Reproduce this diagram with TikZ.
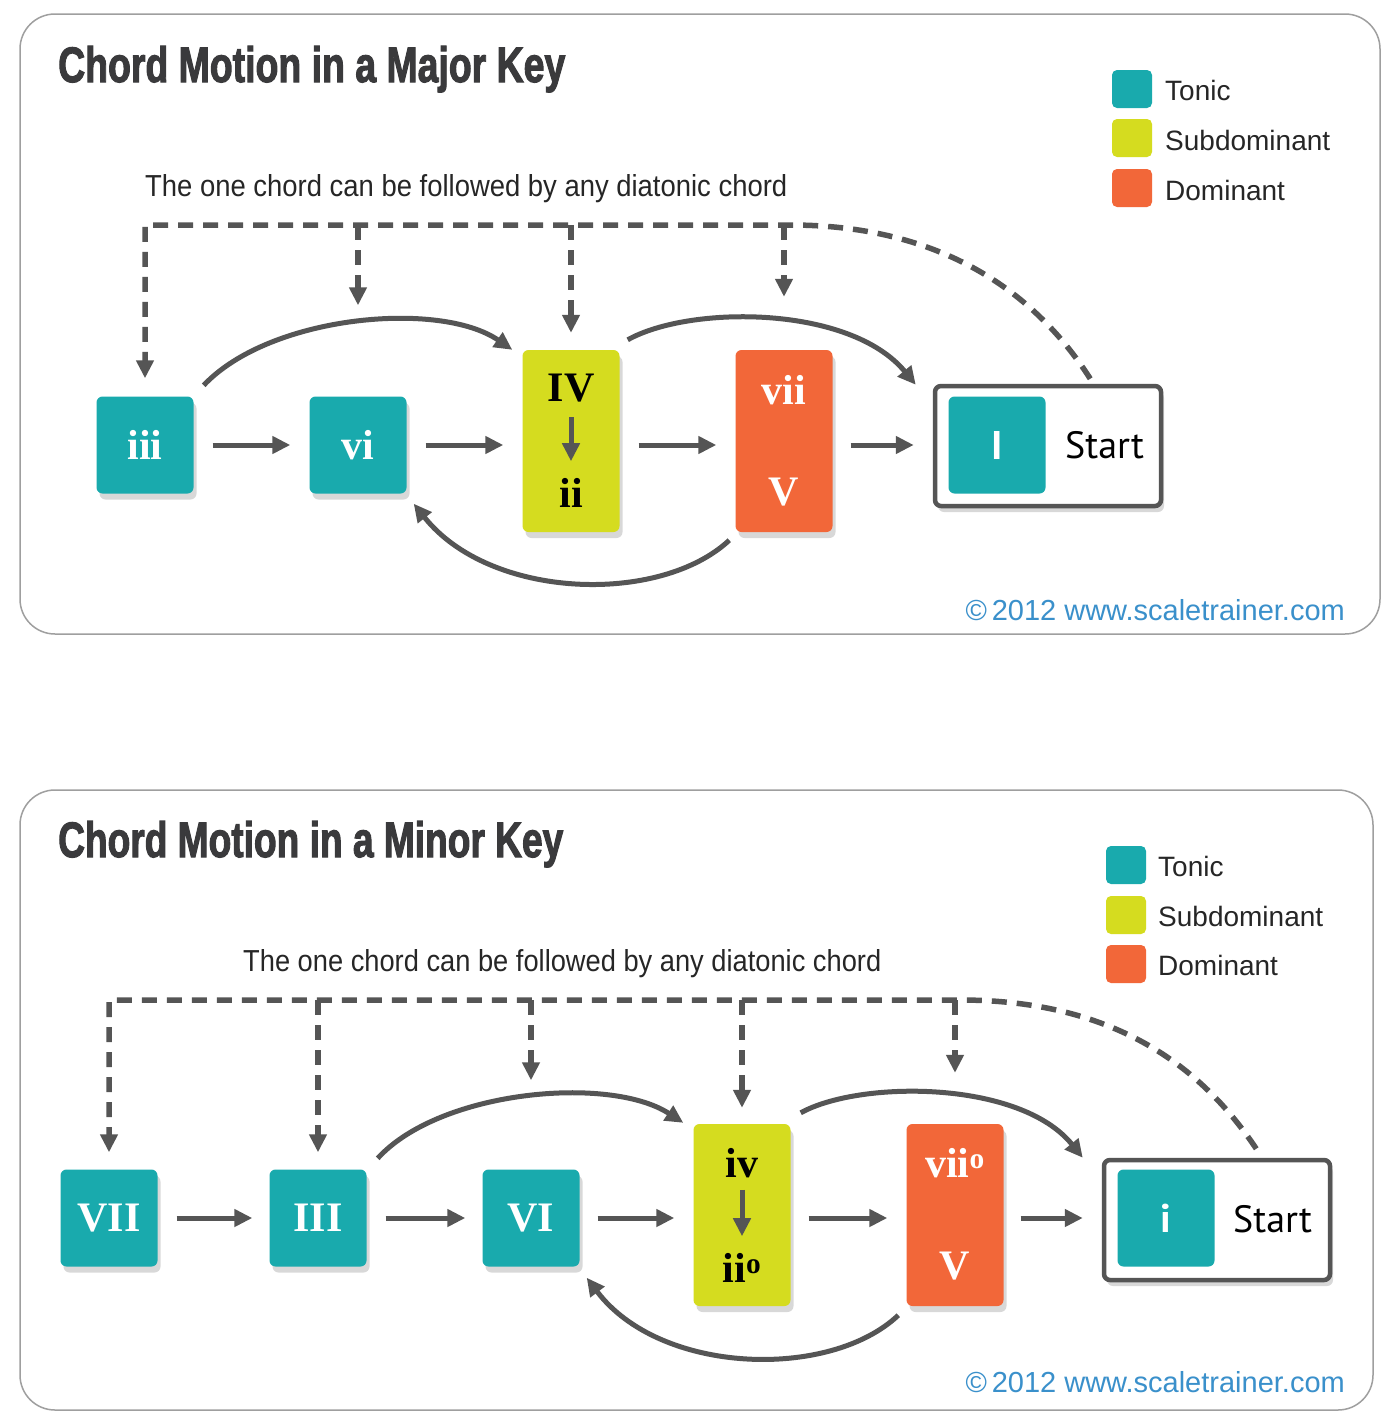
\documentclass[tikz,border=0pt]{standalone}
\usepackage{fontspec}
\setmainfont{Liberation Sans}
\newfontfamily\headfont{Liberation Sans}[BoldFeatures={FakeBold=2.5}]
\newfontfamily\romanfont{Liberation Serif}
\newfontfamily\startfont{PT Sans}
\usetikzlibrary{arrows.meta, shadows}
\definecolor{tonic}{HTML}{19AAAD}
\definecolor{subdom}{HTML}{D5DC1F}
\definecolor{dom}{HTML}{F26739}
\definecolor{arrowgrey}{HTML}{555555}
\definecolor{titlegrey}{HTML}{3A3A3C}
\definecolor{weblink}{HTML}{3A90CB}

\begin{document}
\begin{tikzpicture}[x=1pt, y=-1pt,
  panel/.style={draw=gray!75, line width=1.5pt, rounded corners=35pt},
  chord/.style={fill=tonic, rounded corners=6pt, minimum width=97pt, minimum height=97pt,
    inner sep=0pt, text=white, font=\romanfont\bfseries\fontsize{42}{42}\selectfont,
    drop shadow={shadow xshift=3pt, shadow yshift=-6pt, opacity=.3}},
  tallchord/.style={chord, minimum height=182pt},
  numeral/.style={inner sep=0pt, font=\romanfont\bfseries\fontsize{42}{42}\selectfont},
  startbox/.style={draw=arrowgrey, line width=4.5pt, fill=white, rounded corners=6pt,
    minimum width=226pt, minimum height=120pt,
    drop shadow={shadow xshift=3pt, shadow yshift=-6pt, opacity=.3}},
  startchord/.style={fill=tonic, rounded corners=6pt, minimum width=97pt, minimum height=97pt,
    inner sep=0pt, text=white, font=\startfont\bfseries\fontsize{40}{40}\selectfont},
  starttext/.style={anchor=base west, inner sep=0pt, font=\startfont\fontsize{38}{38}\selectfont},
  arr/.style={arrowgrey, line width=5pt, -{Triangle[length=18pt,width=17pt]}},
  dasharr/.style={arrowgrey, line width=5.5pt, dash pattern=on 15pt off 10pt,
    -{Triangle[length=18pt,width=17pt]}},
  key/.style={rounded corners=5pt, minimum width=40pt, minimum height=38pt},
  keytext/.style={anchor=base west, inner sep=0pt, text=black!85, font=\fontsize{28}{28}\selectfont},
  heading/.style={anchor=base west, inner sep=0pt, text=titlegrey},
  note/.style={anchor=base west, inner sep=0pt, text=black!85},
  copyright/.style={anchor=base east, inner sep=0pt, text=weblink, font=\fontsize{29}{29}\selectfont}]

\fill[white] (0,0) rectangle (1398,1427);
\useasboundingbox (0,0) rectangle (1398,1427);

% ---- major key ----
\draw[panel] (20,14) rectangle (1380,634);
\node[heading] (title1) at (58,82) {\resizebox{507pt}{36pt}{\headfont\bfseries Chord Motion in a Major Key}};
\node[key, fill=tonic] (keyt1) at (1132,89) {};
\node[key, fill=subdom] (keys1) at (1132,138) {};
\node[key, fill=dom] (keyd1) at (1132,188) {};
\node[keytext] at (1165,100) {Tonic};
\node[keytext] at (1165,150) {Subdominant};
\node[keytext] at (1165,200) {Dominant};
\node[note] (note1) at (145,196) {\resizebox{642pt}{22pt}{The one chord can be followed by any diatonic chord}};
\coordinate (dl1) at (0,225);

\node[chord] (iii) at (145,445) {iii};
\node[chord] (vi) at (358,445) {vi};
\node[tallchord, fill=subdom] (IVii) at (571,441) {};
\node[tallchord, fill=dom] (viiV) at (784,441) {};
\node[startbox] (start1) at (1048,446) {};
\node[startchord] (I) at (997,445) {I};
\node[starttext] (st1) at (1065,458) {Start};

\node[numeral] (IV) at (571,388) {IV};
\node[numeral] (ii) at (571,493) {ii};
\node[numeral, text=white] (vii) at (784,390) {vii};
\node[numeral, text=white] (V) at (784,492) {V};
\draw[arr, shorten <=15pt, shorten >=17pt] (IV) -- (ii);

\draw[arr, shorten <=19pt, shorten >=19pt] (iii) -- (vi);
\draw[arr, shorten <=19pt, shorten >=19pt] (vi.east) -- (vi.east -| IVii.west);
\draw[arr, shorten <=19pt, shorten >=19pt] (IVii.east |- vi) -- (viiV.west |- vi);
\draw[arr, shorten <=18pt, shorten >=19pt] (viiV.east |- vi) -- (start1.west |- vi);

\draw[arr] ([shift={(10,-11)}]iii.north east) .. controls (270,315) and (440,300) .. ([shift={(-10,0)}]IVii.north west);
\draw[arr] ([shift={(8,-10)}]IVii.north east) .. controls (690,305) and (850,305) .. ([shift={(-17,1)}]start1.north west);
\draw[arr] ([shift={(-6,8)}]viiV.south west) .. controls (660,605) and (490,600) .. ([shift={(7,10)}]vi.south east);

\draw[dasharr, shorten >=18pt] ([shift={(-73,-5)}]start1.north east) .. controls (1040,300) and (950,225) .. (790,225) -- (iii.north |- dl1) -- (iii.north);
\draw[dasharr, shorten >=91pt] (vi.north |- dl1) -- (vi.north);
\draw[dasharr, shorten >=17pt] (IVii.north |- dl1) -- (IVii.north);
\draw[dasharr, shorten >=53pt] (viiV.north |- dl1) -- (viiV.north);

\node[copyright] (web1) at (1345,620) {\textcopyright\,2012 www.scaletrainer.com};

% ---- minor key ----
\draw[panel] (20,790) rectangle (1373,1410);
\node[heading] (title2) at (58,857) {\resizebox{505pt}{36pt}{\headfont\bfseries Chord Motion in a Minor Key}};
\node[key, fill=tonic] (keyt2) at (1126,865) {};
\node[key, fill=subdom] (keys2) at (1126,915) {};
\node[key, fill=dom] (keyd2) at (1126,964) {};
\node[keytext] at (1158,876) {Tonic};
\node[keytext] at (1158,926) {Subdominant};
\node[keytext] at (1158,975) {Dominant};
\node[note] (note2) at (243,971) {\resizebox{638pt}{22pt}{The one chord can be followed by any diatonic chord}};
\coordinate (dl2) at (0,1000);

\node[chord] (VII) at (109,1218) {VII};
\node[chord] (III) at (318,1218) {III};
\node[chord] (VI) at (531,1218) {VI};
\node[tallchord, fill=subdom] (ivii) at (742,1215) {};
\node[tallchord, fill=dom] (viiV2) at (955,1215) {};
\node[startbox] (start2) at (1217,1220) {};
\node[startchord] (i) at (1166,1218) {i};
\node[starttext] (st2) at (1233,1232) {Start};

\node[numeral] (iv) at (742,1163) {iv};
\node[numeral] (iio) at (742,1268) {ii\textsuperscript{o}};
\node[numeral, text=white] (viio) at (955,1163) {vii\textsuperscript{o}};
\node[numeral, text=white] (V2) at (955,1266) {V};
\draw[arr, shorten <=12pt, shorten >=17pt] (iv) -- (iio);

\draw[arr, shorten <=19pt, shorten >=17pt] (VII) -- (III);
\draw[arr, shorten <=19pt, shorten >=17pt] (III) -- (VI);
\draw[arr, shorten <=18pt, shorten >=19pt] (VI.east) -- (VI.east -| ivii.west);
\draw[arr, shorten <=18pt, shorten >=19pt] (ivii.east |- VI) -- (viiV2.west |- VI);
\draw[arr, shorten <=17pt, shorten >=19pt] (viiV2.east |- VI) -- (start2.west |- VI);

\draw[arr] ([shift={(11,-11)}]III.north east) .. controls (440,1090) and (610,1075) .. ([shift={(-10,-1)}]ivii.north west);
\draw[arr] ([shift={(10,-11)}]ivii.north east) .. controls (860,1080) and (1020,1080) .. ([shift={(-19,0)}]start2.north west);
\draw[arr] ([shift={(-8,9)}]viiV2.south west) .. controls (830,1380) and (660,1375) .. ([shift={(7,11)}]VI.south east);

\draw[dasharr, shorten >=17pt] ([shift={(-76,-9)}]start2.north east) .. controls (1205,1072) and (1120,1000) .. (960,1000) -- (VII.north |- dl2) -- (VII.north);
\draw[dasharr, shorten >=17pt] (III.north |- dl2) -- (III.north);
\draw[dasharr, shorten >=89pt] (VI.north |- dl2) -- (VI.north);
\draw[dasharr, shorten >=16pt] (ivii.north |- dl2) -- (ivii.north);
\draw[dasharr, shorten >=51pt] (viiV2.north |- dl2) -- (viiV2.north);

\node[copyright] (web2) at (1345,1392) {\textcopyright\,2012 www.scaletrainer.com};
\end{tikzpicture}
\end{document}
